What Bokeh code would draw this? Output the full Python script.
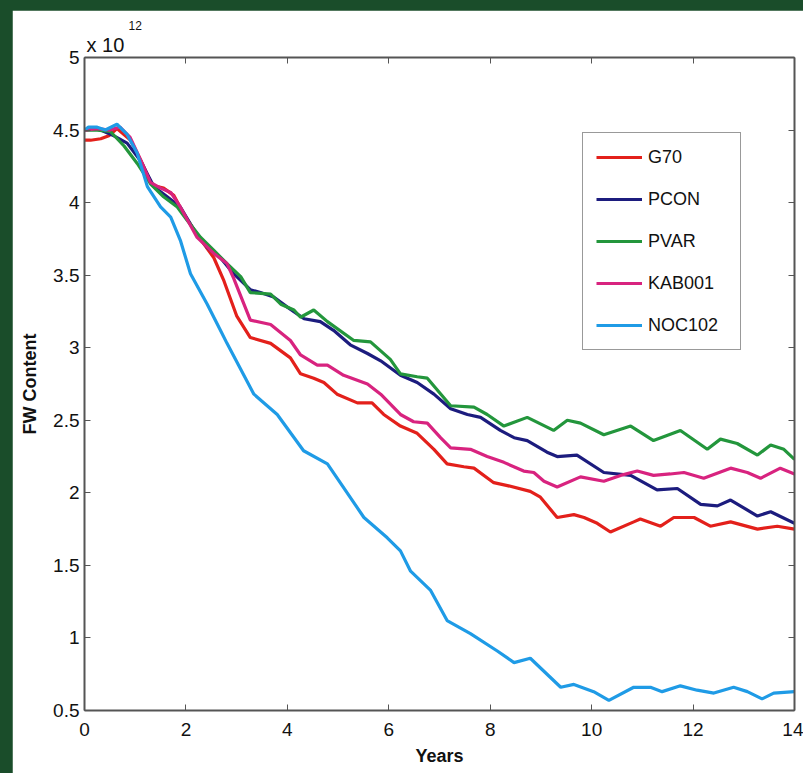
from bokeh.plotting import figure
from bokeh.models import (Range1d, LinearAxis, FixedTicker, Legend, LegendItem, Title)
from bokeh.layouts import column
from bokeh.embed import file_html
from bokeh.resources import INLINE

# ---- data (values in units of 1e12) ----
x_ticks = [0, 2, 4, 6, 8, 10, 12, 14]
y_ticks = [0.5, 1, 1.5, 2, 2.5, 3, 3.5, 4, 4.5, 5]
y_tick_labels = ["0.5", "1", "1.5", "2", "2.5", "3", "3.5", "4", "4.5", "5"]

g70_x = [0, 0.12, 0.32, 0.48, 0.64, 0.91, 1.14, 1.33, 1.56, 1.76, 1.96, 2.22, 2.55, 2.75, 3.0, 3.27,
         3.67, 4.06, 4.26, 4.52, 4.72, 4.98, 5.38, 5.67, 5.9, 6.23, 6.56, 6.89, 7.15, 7.48, 7.68,
         8.07, 8.34, 8.79, 8.99, 9.32, 9.65, 9.85, 10.11, 10.37, 10.83, 10.96, 11.36, 11.62,
         12.02, 12.34, 12.74, 13.27, 13.66, 14.0]
g70_y = [4.43, 4.43, 4.44, 4.46, 4.51, 4.43, 4.27, 4.12, 4.10, 4.05, 3.92, 3.78, 3.62, 3.46, 3.22, 3.07,
         3.03, 2.93, 2.82, 2.79, 2.76, 2.68, 2.62, 2.62, 2.54, 2.46, 2.41, 2.30, 2.20, 2.18, 2.17,
         2.07, 2.05, 2.01, 1.97, 1.83, 1.85, 1.83, 1.79, 1.73, 1.80, 1.82, 1.77, 1.83,
         1.83, 1.77, 1.80, 1.75, 1.77, 1.75]

pcon_x = [0, 0.25, 0.58, 0.84, 1.1, 1.37, 1.63, 1.89, 2.16, 2.42, 2.68, 2.94, 3.27, 3.47, 3.73,
          4.0, 4.33, 4.65, 4.91, 5.24, 5.58, 5.84, 6.23, 6.56, 6.89, 7.22, 7.55, 7.81, 8.2, 8.47,
          8.73, 9.12, 9.32, 9.71, 10.24, 10.77, 11.29, 11.69, 12.15, 12.48, 12.74, 13.27, 13.53, 14.0]
pcon_y = [4.50, 4.51, 4.46, 4.41, 4.29, 4.11, 4.04, 3.97, 3.81, 3.69, 3.62, 3.51, 3.40, 3.38, 3.35,
          3.28, 3.20, 3.18, 3.12, 3.02, 2.96, 2.91, 2.81, 2.76, 2.68, 2.58, 2.54, 2.52, 2.43, 2.38,
          2.36, 2.28, 2.25, 2.26, 2.14, 2.12, 2.02, 2.03, 1.92, 1.91, 1.95, 1.84, 1.87, 1.79]

pvar_x = [0, 0.25, 0.51, 0.78, 1.04, 1.3, 1.56, 1.83, 2.02, 2.29, 2.55, 2.81, 3.08, 3.27, 3.67,
          3.87, 4.13, 4.26, 4.52, 4.79, 5.31, 5.64, 6.03, 6.23, 6.56, 6.76, 7.22, 7.68, 7.94, 8.27,
          8.73, 9.25, 9.52, 9.78, 10.24, 10.77, 11.22, 11.75, 12.28, 12.54, 12.87, 13.27, 13.53,
          13.79, 14.0]
pvar_y = [4.50, 4.50, 4.49, 4.39, 4.27, 4.13, 4.04, 3.97, 3.88, 3.76, 3.67, 3.58, 3.49, 3.38, 3.37,
          3.30, 3.26, 3.21, 3.26, 3.18, 3.05, 3.04, 2.92, 2.82, 2.80, 2.79, 2.60, 2.59, 2.54, 2.46,
          2.52, 2.43, 2.50, 2.48, 2.40, 2.46, 2.36, 2.43, 2.30, 2.37, 2.34, 2.26, 2.33,
          2.30, 2.23]

kab_x = [0, 0.25, 0.5, 0.7, 0.9, 1.1, 1.3, 1.5, 1.7, 1.89, 2.22, 2.55, 2.81, 2.94, 3.27, 3.67,
         4.06, 4.26, 4.59, 4.79, 5.11, 5.58, 5.84, 6.23, 6.49, 6.76, 7.02, 7.22, 7.61, 7.94, 8.27,
         8.66, 8.86, 9.06, 9.32, 9.78, 10.24, 10.57, 10.9, 11.22, 11.55, 11.82, 12.21, 12.74,
         13.07, 13.33, 13.72, 14.0]
kab_y = [4.50, 4.51, 4.50, 4.52, 4.45, 4.30, 4.14, 4.10, 4.07, 3.97, 3.76, 3.65, 3.58, 3.48, 3.19, 3.16,
         3.05, 2.95, 2.88, 2.88, 2.81, 2.75, 2.68, 2.54, 2.49, 2.48, 2.38, 2.31, 2.30, 2.25, 2.21,
         2.15, 2.14, 2.08, 2.04, 2.11, 2.08, 2.12, 2.15, 2.12, 2.13, 2.14, 2.10, 2.17,
         2.14, 2.10, 2.17, 2.13]

noc_x = [0, 0.08, 0.25, 0.41, 0.64, 0.84, 1.04, 1.24, 1.5, 1.7, 1.89, 2.09, 2.42, 2.68, 2.81, 3.34,
         3.8, 4.32, 4.79, 5.51, 5.97, 6.23, 6.43, 6.82, 7.15, 7.61, 8.14, 8.47, 8.79, 9.39, 9.65,
         10.04, 10.34, 10.83, 11.16, 11.39, 11.75, 12.08, 12.41, 12.8, 13.07, 13.36, 13.59, 14.0]
noc_y = [4.50, 4.52, 4.52, 4.50, 4.54, 4.47, 4.34, 4.11, 3.97, 3.90, 3.74, 3.51, 3.30, 3.12, 3.03, 2.68,
         2.54, 2.29, 2.20, 1.83, 1.69, 1.60, 1.46, 1.33, 1.12, 1.03, 0.91, 0.83, 0.86, 0.66, 0.68,
         0.63, 0.57, 0.66, 0.66, 0.63, 0.67, 0.64, 0.62, 0.66, 0.63, 0.58, 0.62, 0.63]

series_names = ["G70", "PCON", "PVAR", "KAB001", "NOC102"]
series_x = [g70_x, pcon_x, pvar_x, kab_x, noc_x]
series_y = [g70_y, pcon_y, pvar_y, kab_y, noc_y]
series_colors = ["#e3201b", "#1c1c7e", "#23963c", "#d8237f", "#1f9be6"]

FONT = "Liberation Sans"
AXIS_COLOR = "#555555"

p = figure(width=791, height=763, output_backend="svg", toolbar_location=None,
           x_range=Range1d(0, 14), y_range=Range1d(0.5, 5),
           min_border_left=72, min_border_right=9, min_border_top=47, min_border_bottom=63,
           background_fill_color="white", border_fill_color="white", outline_line_color=None)
p.xaxis.visible = False
p.yaxis.visible = False
p.grid.visible = False

def make_axis(ticks, show_labels, label=None, overrides=None):
    ax = LinearAxis(ticker=FixedTicker(ticks=ticks))
    ax.axis_line_color = AXIS_COLOR
    ax.axis_line_width = 2
    ax.major_tick_in = 6
    ax.major_tick_out = 0
    ax.major_tick_line_color = AXIS_COLOR
    ax.minor_tick_line_color = None
    ax.major_label_text_font = FONT
    ax.major_label_text_font_size = "19px"
    ax.major_label_text_color = "#111111"
    if overrides:
        ax.major_label_overrides = overrides
    if not show_labels:
        ax.major_label_overrides = {t: "" for t in ticks}
        ax.major_label_standoff = 0
    if label:
        ax.axis_label = label
        ax.axis_label_text_font = FONT
        ax.axis_label_text_font_style = "bold"
        ax.axis_label_text_font_size = "18px"
        ax.axis_label_text_color = "#111111"
    return ax

bottom = make_axis(x_ticks, True, "Years")
bottom.major_label_standoff = 12
bottom.axis_label_standoff = 7
left = make_axis(y_ticks, True, "FW Content",
                 overrides={t: s for t, s in zip(y_ticks, y_tick_labels)})
left.major_label_standoff = 5
left.axis_label_standoff = 10
top = make_axis(x_ticks, False)
right = make_axis(y_ticks, False)
p.add_layout(bottom, "below")
p.add_layout(left, "left")
p.add_layout(top, "above")
p.add_layout(right, "right")

items = []
for name, xs, ys, c in zip(series_names, series_x, series_y, series_colors):
    r = p.line(xs, ys, line_color=c, line_width=3.2)
    items.append(LegendItem(label=name, renderers=[r]))

legend = Legend(items=items, location=(498, 360))
legend.border_line_color = "#333333"
legend.border_line_width = 1.5
legend.background_fill_color = "white"
legend.background_fill_alpha = 1
legend.label_text_font = FONT
legend.label_text_font_size = "18px"
legend.label_text_color = "#111111"
legend.padding = 13
legend.spacing = 20
legend.glyph_height = 22
legend.label_height = 22
legend.glyph_width = 46
legend.label_standoff = 6
legend.label_width = 79
legend.margin = 0
p.add_layout(legend, "center")

# exponent "x 10^12" above the top-left corner
t_base = Title(text="x 10", align="left", offset=2, standoff=4,
               text_font=FONT, text_font_size="20px", text_font_style="normal",
               text_color="#111111")
t_exp = Title(text="12", align="left", offset=44, standoff=0,
              text_font=FONT, text_font_size="12px", text_font_style="normal",
              text_color="#111111")
p.add_layout(t_base, "above")
p.add_layout(t_exp, "above")

layout = column(p, styles={"background-color": "#1a4d2a", "padding-left": "12px",
                           "padding-top": "10px"})

open("out.html", "w").write(file_html(layout, INLINE))
